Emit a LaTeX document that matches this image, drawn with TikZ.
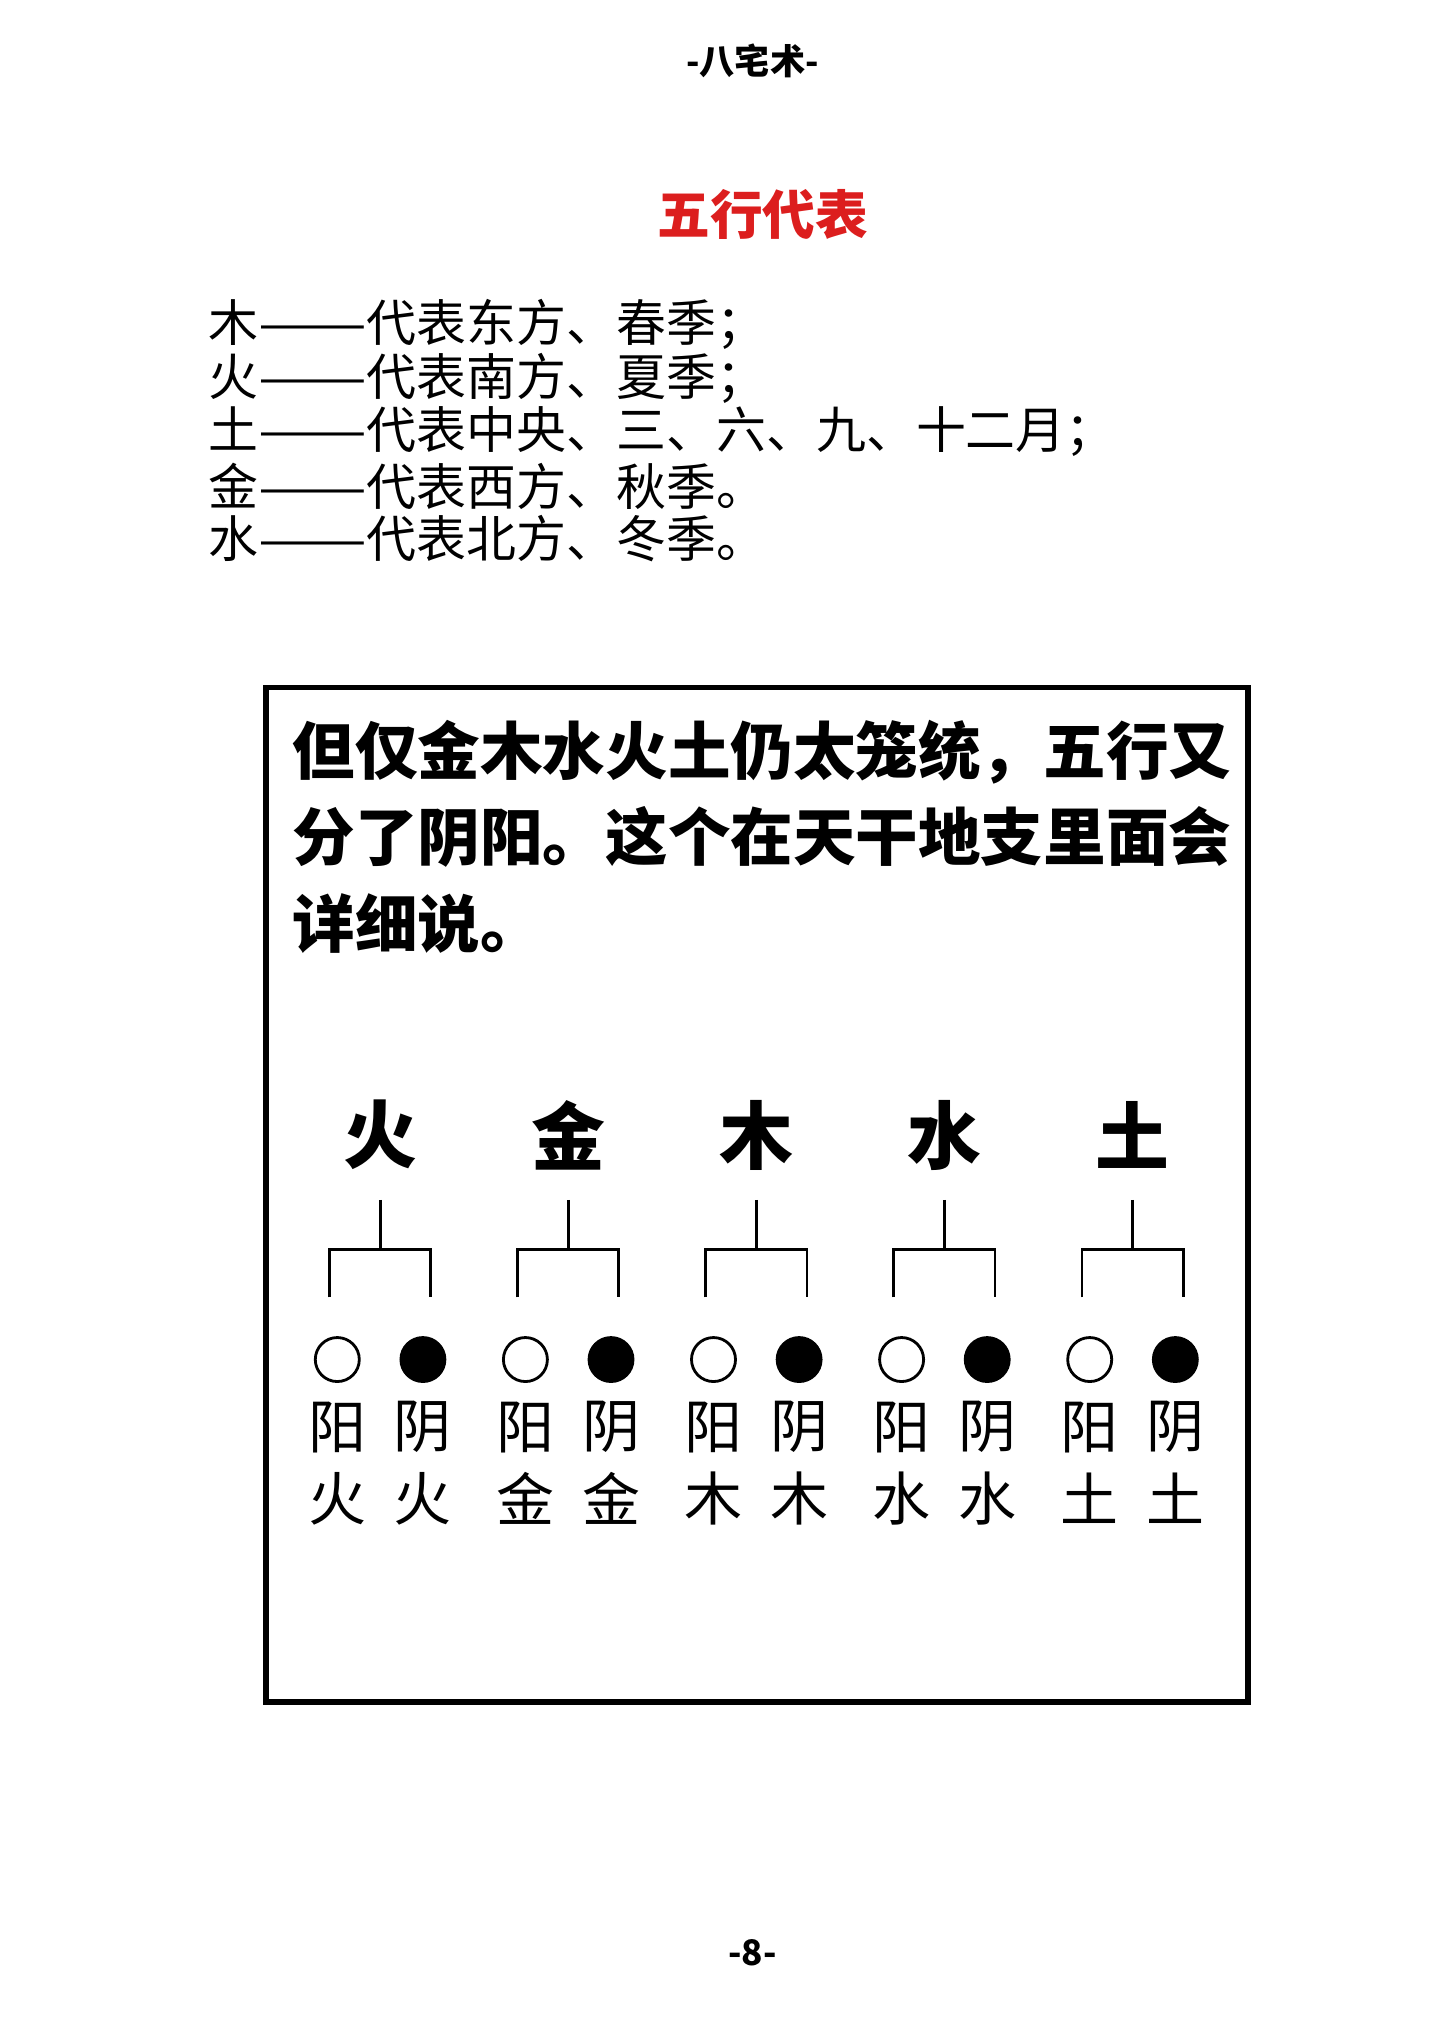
\documentclass[tikz,border=0pt]{standalone}
\usepackage{fontspec}
\usepackage{graphicx}
\setmainfont{Noto Sans CJK SC}
\newfontfamily\cjk{Noto Sans CJK SC}
\usetikzlibrary{positioning}
\definecolor{titlered}{RGB}{220,30,30}
\newcommand{\longdash}{\scalebox{1.3}[1]{——}}
\begin{document}
\begin{tikzpicture}[x=0.01297cm,y=-0.01297cm]

  \tikzstyle{plain}=[inner sep=0pt, anchor=west]

  \tikzstyle{listline}=[plain, font=\cjk\fontsize{14.2}{14.2}\selectfont]

  \tikzstyle{boxline}=[plain, font=\cjk\bfseries\fontsize{17.8}{17.8}\selectfont]

  \tikzstyle{element}=[inner sep=0pt, font=\cjk\bfseries\fontsize{21}{21}\selectfont]

  \tikzstyle{sub}=[inner sep=0pt, font=\cjk\fontsize{16.5}{16.5}\selectfont]

  \tikzstyle{yang}=[shape=circle, draw, thick, minimum size=0.44cm, inner sep=0pt]

  \tikzstyle{yin}=[yang, fill=black]

\useasboundingbox (0,0) rectangle (1110,1571);

%% header and title
\node (H) at (580,47) {\cjk\bfseries\fontsize{10}{10}\selectfont -八宅术-};
\node (T) at (588,165) {\cjk\bfseries\color{titlered}\fontsize{15}{15}\selectfont 五行代表};

%% list
\node (L1)[listline] at (160,250) {木\longdash 代表东方、春季；};
\node (L2)[listline] at (160,292) {火\longdash 代表南方、夏季；};
\node (L3)[listline] at (160,333) {土\longdash 代表中央、三、六、九、十二月；};
\node (L4)[listline] at (160,375) {金\longdash 代表西方、秋季。};
\node (L5)[listline] at (160,415) {水\longdash 代表北方、冬季。};

%% box
\draw[line width=1.6pt] (205,530) rectangle (962,1312);
\node (B1)[boxline] at (225,580) {但仅金木水火土仍太笼统，五行又};
\node (B2)[boxline] at (225,645) {分了阴阳。这个在天干地支里面会};
\node (B3)[boxline] at (225,712) {详细说。};

%% elements
\foreach \el [count=\i] in {火,金,木,水,土} {
  \pgfmathsetmacro{\cx}{293+145*(\i-1)}
  \node (E\i)[element] at (\cx,875) {\el};
  \draw[thick] (\cx,925) -- (\cx,963);
  \draw[thick] (\cx-39,1000) -- (\cx-39,963) -- (\cx+39,963) -- (\cx+39,1000);
  \node (Y\i)[yang] at (\cx-33,1048) {};
  \node (N\i)[yin] at (\cx+33,1048) {};
  \node (YA\i)[sub] at (\cx-33,1100) {阳};
  \node (YB\i)[sub] at (\cx-33,1155) {\el};
  \node (NA\i)[sub] at (\cx+33,1100) {阴};
  \node (NB\i)[sub] at (\cx+33,1155) {\el};
}

%% footer
\node (F) at (580,1505) {\cjk\bfseries\fontsize{10}{10}\selectfont -8-};
\end{tikzpicture}
\end{document}
